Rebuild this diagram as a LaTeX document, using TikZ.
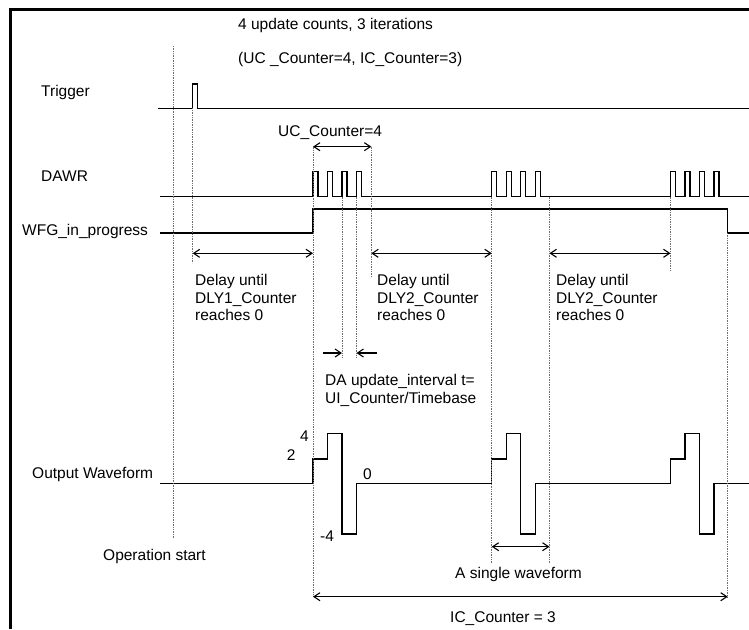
\documentclass[tikz,border=0pt]{standalone}
\usepackage{fontspec}
\setmainfont{Liberation Sans}
\usetikzlibrary{arrows.meta}
\definecolor{guidecol}{RGB}{110,110,110}

\tikzset{
    sig/.style={line width=1.4pt},
    guide/.style={guidecol, densely dotted, line width=0.7pt},
    tip/.style={line width=1.1pt},
    dim/.style={tip, {Straight Barb[length=6pt,width=8pt]}-{Straight Barb[length=6pt,width=8pt]}},
    lbl/.style={inner sep=0pt, anchor=north west, align=left, font=\fontsize{15.5}{17.5}\selectfont}
}

\begin{document}
\begin{tikzpicture}[x=1pt, y=-1pt]
    \useasboundingbox (0,0) rectangle (749,629);
    \draw[line width=3pt] (10,629) -- (10,9.5) -- (749,9.5);

    % time instants
    \coordinate (tS) at (173,0);
    \coordinate (tT) at (192.7,0);
    \coordinate (tA) at (313,0);
    \coordinate (tU1) at (342,0);
    \coordinate (tU2) at (356.5,0);
    \coordinate (tB) at (371.3,0);
    \coordinate (tC) at (491.7,0);
    \coordinate (tD) at (549.5,0);
    \coordinate (tE) at (670.5,0);
    \coordinate (tF) at (727.7,0);
    % rows
    \coordinate (rUC) at (0,146.7);
    \coordinate (rDly) at (0,253.3);
    \coordinate (rUI) at (0,353);
    \coordinate (rSgl) at (0,546.7);
    \coordinate (rIC) at (0,596.7);

    % signals
    \draw[sig] (158,108.3) -- (192.7,108.3) -- (192.7,84) -- (197.7,84) -- (197.7,108.3) -- (749,108.3);
    \draw[sig] (160,196.7) foreach \g in {313,491.7,670.5} {
        foreach \k in {0,...,3} {
            -- ({\g+14.5*\k},196.7) -- ({\g+14.5*\k},171.7) -- ({\g+14.5*\k+5},171.7) -- ({\g+14.5*\k+5},196.7)
        }
    } -- (749,196.7);
    \draw[sig] (160,233) -- (313,233) -- (313,209) -- (727.7,209) -- (727.7,233) -- (749,233);
    \draw[sig] (160,483.5) foreach \g in {313,491.7,670.5} {
        -- (\g,483.5) -- (\g,459) -- (\g+14.5,459) -- (\g+14.5,433.5) -- (\g+29,433.5)
        -- (\g+29,534) -- (\g+43.5,534) -- (\g+43.5,483.5)
    } -- (749,483.5);

    % dotted guides
    \draw[guide] (173,46) -- (173,538);
    \draw[guide] (192.7,108.3) -- (192.7,263);
    \draw[guide] (313,146.7) -- (313,597);
    \draw[guide] (371.3,146.7) -- (371.3,276);
    \draw[guide] (342,196.7) -- (342,358);
    \draw[guide] (356.5,196.7) -- (356.5,358);
    \draw[guide] (491.7,196.7) -- (491.7,563);
    \draw[guide] (549.5,196.7) -- (549.5,563);
    \draw[guide] (670.5,196.7) -- (670.5,270);
    \draw[guide] (727.7,233) -- (727.7,597);

    % dimension arrows
    \draw[dim] (tA |- rUC) -- (tB |- rUC);
    \draw[dim] (tT |- rDly) -- (tA |- rDly);
    \draw[dim] (tB |- rDly) -- (tC |- rDly);
    \draw[dim] (tD |- rDly) -- (tE |- rDly);
    \coordinate (uiL) at (323,353);
    \coordinate (uiR) at (376.7,353);
    \draw[tip, -{Straight Barb[length=6pt,width=8pt]}] (uiL) -- (tU1 |- rUI);
    \draw[tip, -{Straight Barb[length=6pt,width=8pt]}] (uiR) -- (tU2 |- rUI);
    \draw[dim] (tC |- rSgl) -- (tD |- rSgl);
    \draw[dim] (tA |- rIC) -- (tF |- rIC);

    % labels
    \node[lbl] (ttl) at (238,18.5) {4 update counts, 3 iterations};
    \node[lbl] (sub) at (238,52.5) {(UC \_Counter=4, IC\_Counter=3)};
    \node[lbl] (trg) at (41,85.5) {Trigger};
    \node[lbl] (ucc) at (278,125.5) {UC\_Counter=4};
    \node[lbl] (dawr) at (41,170.5) {DAWR};
    \node[lbl] (wfg) at (22,224.5) {WFG\_in\_progress};
    \node[lbl] (dly1) at (195,274.5) {Delay until\\DLY1\_Counter\\reaches 0};
    \node[lbl] (dly2) at (377,274.5) {Delay until\\DLY2\_Counter\\reaches 0};
    \node[lbl] (dly3) at (556,274.5) {Delay until\\DLY2\_Counter\\reaches 0};
    \node[lbl] (uit) at (325,374.5) {DA update\_interval t=\\UI\_Counter/Timebase};
    \node[lbl] (lv4) at (300,431) {4};
    \node[lbl] (lv2) at (286.7,449.5) {2};
    \node[lbl] (lv0) at (363,468.5) {0};
    \node[lbl] (lvm) at (320,531) {-4};
    \node[lbl] (out) at (32,467.5) {Output Waveform};
    \node[lbl] (ops) at (103,549.5) {Operation start};
    \node[lbl] (sgl) at (455,567.5) {A single waveform};
    \node[lbl] (icc) at (450,611.5) {IC\_Counter = 3};
\end{tikzpicture}
\end{document}
